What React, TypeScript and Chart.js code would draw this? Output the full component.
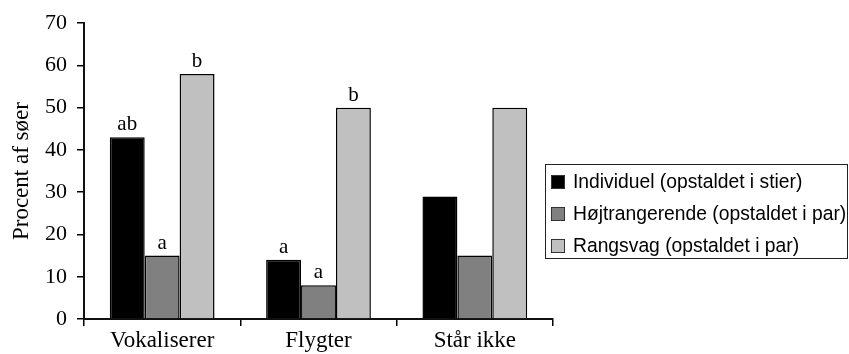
import React, { useEffect, useRef } from "react";
import { Chart, registerables } from "chart.js";

Chart.register(...registerables);

const categories = ["Vokaliserer", "Flygter", "Står ikke"];
const seriesNames = [
  "Individuel (opstaldet i stier)",
  "Højtrangerende (opstaldet i par)",
  "Rangsvag (opstaldet i par)",
];
const individuel = [43, 14, 29];
const hojtrangerende = [15, 8, 15];
const rangsvag = [58, 50, 50];
const individuelLetters = ["ab", "a", ""];
const hojLetters = ["a", "a", ""];
const rangsvagLetters = ["b", "b", ""];
const seriesColors = ["#000000", "#808080", "#c0c0c0"];
const yTicks = [0, 10, 20, 30, 40, 50, 60, 70];

const SERIF = "'Liberation Serif', 'Times New Roman', serif";
const SANS = "'Liberation Sans', Arial, sans-serif";

const letterPlugin = {
  id: "letters",
  afterDatasetsDraw(chart: any) {
    const ctx = chart.ctx;
    ctx.save();
    ctx.font = `21px ${SERIF}`;
    ctx.fillStyle = "#000";
    ctx.textAlign = "center";
    ctx.textBaseline = "bottom";
    chart.data.datasets.forEach((ds: any, i: number) => {
      const meta = chart.getDatasetMeta(i);
      meta.data.forEach((el: any, j: number) => {
        const t = ds.letters?.[j];
        if (t) ctx.fillText(t, el.x, el.y - 2);
      });
    });
    ctx.restore();
  },
};

const legendPlugin = {
  id: "boxLegend",
  afterDraw(chart: any) {
    const ctx = chart.ctx;
    ctx.save();
    const bx = 545.5, by = 164.5, bw = 302, bh = 94;
    ctx.fillStyle = "#fff";
    ctx.fillRect(bx, by, bw, bh);
    ctx.strokeStyle = "#222";
    ctx.lineWidth = 1;
    ctx.strokeRect(bx, by, bw, bh);
    ctx.font = `19.3px ${SANS}`;
    ctx.textBaseline = "middle";
    ctx.textAlign = "left";
    const rows = [182, 214, 246];
    chart.data.datasets.forEach((ds: any, i: number) => {
      const cy = rows[i];
      ctx.fillStyle = ds.backgroundColor;
      ctx.fillRect(551, cy - 7, 14, 14);
      ctx.strokeStyle = "#333";
      ctx.strokeRect(551.5, cy - 6.5, 13, 13);
      ctx.fillStyle = "#000";
      ctx.fillText(ds.label, 573, cy + 1);
    });
    ctx.restore();
  },
};

export default function App() {
  const ref = useRef<HTMLCanvasElement>(null);
  useEffect(() => {
    document.body.style.margin = "0";
    const datasets = [individuel, hojtrangerende, rangsvag].map((d, i) => ({
      label: seriesNames[i],
      data: d,
      backgroundColor: seriesColors[i],
      borderColor: "#000",
      borderWidth: 1.5,
      borderSkipped: "bottom",
      letters: [individuelLetters, hojLetters, rangsvagLetters][i],
      categoryPercentage: 0.67,
      barPercentage: 1.0,
    }));
    const chart = new Chart(ref.current!, {
      type: "bar",
      data: { labels: categories, datasets: datasets as any },
      plugins: [letterPlugin, legendPlugin],
      options: {
        animation: false,
        responsive: false,
        layout: { padding: { top: 21, right: 296, left: 0, bottom: 0 } },
        plugins: { legend: { display: false }, tooltip: { enabled: false } },
        scales: {
          x: {
            offset: true,
            grid: {
              display: true,
              offset: true,
              drawOnChartArea: false,
              drawTicks: true,
              tickLength: 7,
              color: "#000",
              lineWidth: 1.5,
            },
            border: { display: true, color: "#111", width: 2 },
            ticks: { color: "#000", font: { family: SERIF, size: 23 }, padding: 1 },
            afterFit(scale: any) {
              scale.height = 35;
            },
          },
          y: {
            min: 0,
            max: 70,
            afterBuildTicks(scale: any) {
              scale.ticks = yTicks.map((v) => ({ value: v }));
            },
            grid: {
              display: true,
              drawOnChartArea: false,
              drawTicks: true,
              tickLength: 7,
              color: "#000",
              lineWidth: 1.5,
            },
            border: { display: true, color: "#111", width: 2 },
            ticks: { color: "#000", font: { family: SERIF, size: 22 }, padding: 10 },
            title: {
              display: true,
              text: "Procent af søer",
              color: "#000",
              font: { family: SERIF, size: 23 },
              padding: { top: 8, bottom: 0 },
            },
            afterFit(scale: any) {
              scale.width = 84;
            },
          },
        },
      },
    });
    return () => chart.destroy();
  }, []);
  return (
    <div style={{ position: "absolute", left: 0, top: 0, width: 849, height: 354, background: "#fff" }}>
      <canvas ref={ref} width={849} height={354} />
    </div>
  );
}
